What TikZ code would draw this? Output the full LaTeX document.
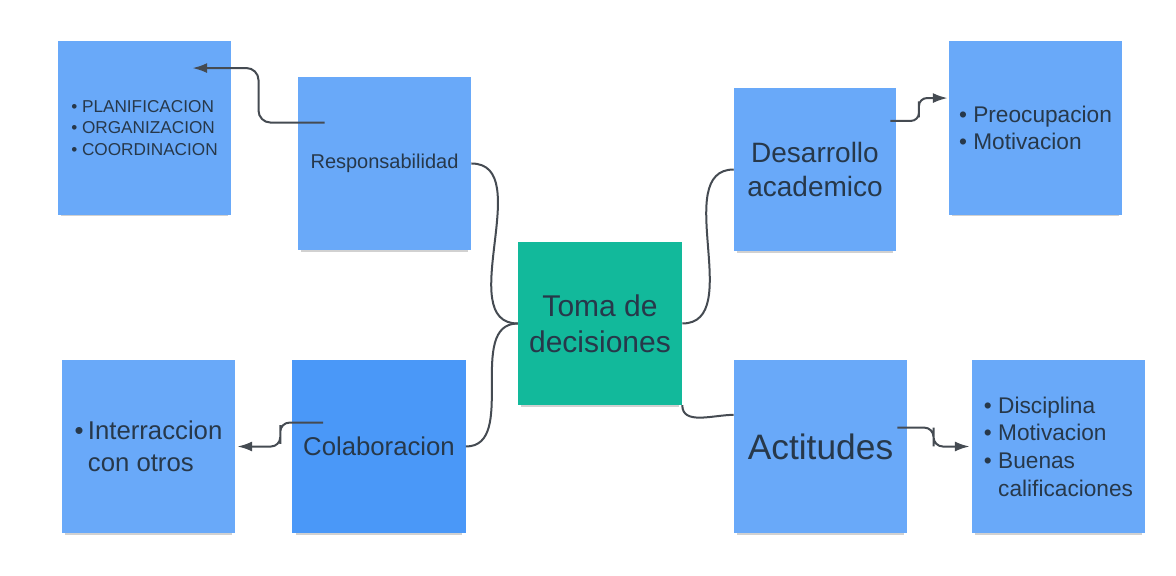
\documentclass[tikz,border=0pt]{standalone}
\usepackage{fontspec}
\setmainfont{Liberation Sans}
\usetikzlibrary{arrows.meta,calc,shadows}
\definecolor{boxblue}{HTML}{69A9F9}
\definecolor{boxdeep}{HTML}{4A98F8}
\definecolor{boxteal}{HTML}{12B99B}
\definecolor{inktext}{HTML}{27384A}
\definecolor{inkline}{HTML}{454B52}
\begin{document}
\begin{tikzpicture}[x=0.75pt,y=0.75pt,
	>={Latex[length=11pt,width=7.5pt]},
	mybox/.style={rectangle,fill=boxblue,text=inktext,minimum width=130pt,minimum height=130pt,inner sep=0pt,
		drop shadow={shadow xshift=0pt,shadow yshift=-4pt,shadow scale=0.96,opacity=0.18,fill=black}},
	mylink/.style={draw=inkline,line width=1.5pt},
	myarrow/.style={mylink,->}]
	
	\useasboundingbox (0,0) rectangle (1176,575);
	
	\node[mybox,fill=boxteal,minimum width=123pt,minimum height=122pt,align=center,font=\fontsize{22.5}{27}\selectfont] (toma) at (600,251.5) {Toma de\\decisiones};
	\node[mybox,font=\fontsize{15}{18}\selectfont] (resp) at (384.5,411.5) {Responsabilidad};
	\node[mybox,minimum width=121.5pt,minimum height=122pt,align=center,font=\fontsize{21}{25.5}\selectfont] (des) at (815,405.5) {Desarrollo\\academico};
	\node[mybox,fill=boxdeep,font=\fontsize{19.3}{23}\selectfont] (col) at (379,128.5) {Colaboracion};
	\node[mybox,font=\fontsize{26.5}{32}\selectfont] (act) at (820.5,128.5) {Actitudes};
	
	\node[mybox,align=left,font=\fontsize{12.9}{16.1}\selectfont] (plan) at (144.5,447) {• PLANIFICACION\\• ORGANIZACION\\• COORDINACION};
	\node[mybox,align=left,font=\fontsize{17}{20.3}\selectfont] (pre) at (1035.5,447) {• Preocupacion\\• Motivacion};
	\node[mybox,align=left,font=\fontsize{19.3}{24}\selectfont] (inter) at (148.5,128.5) {•\,Interraccion\\\phantom{•\,}con otros};
	\node[mybox,align=left,font=\fontsize{17}{20.7}\selectfont] (disc) at (1058.5,128.5) {• Disciplina\\• Motivacion\\• Buenas\\\phantom{• }calificaciones};
	
	% ramas hacia el centro
	\draw[mylink] (resp.east) to[out=0,in=180] (toma.west);
	\draw[mylink] (col.east) to[out=0,in=180] (toma.west);
	\draw[mylink] (toma.east) to[out=0,in=180] (des.west);
	\draw[mylink] (toma.south east) to[out=-90,in=180] (act.160);
	
	% flechas hacia las listas
	\coordinate (r1) at ($(resp.north west)+(27,-46)$);
	\coordinate (p1) at ($(plan.north east)+(-39,-27)$);
	\draw[myarrow,rounded corners=9pt] (r1) -| ($(r1)!0.5!(p1)$) |- (p1);
	
	\coordinate (d1) at ($(des.north east)+(-6,-33)$);
	\coordinate (q1) at ($(pre.north west)+(-1,-57)$);
	\draw[myarrow,rounded corners=6pt] (d1) -| ($(d1)!0.5!(q1)$) |- (q1);
	
	\coordinate (c1) at ($(col.north west)+(31,-63)$);
	\coordinate (i1) at ($(inter.east)+(2,0)$);
	\draw[myarrow,rounded corners=7pt] (c1) -| ($(c1)!0.5!(i1)$) |- (i1);
	
	\coordinate (a1) at ($(act.north east)+(-10,-68)$);
	\coordinate (s1) at ($(disc.west)+(-2,0)$);
	\draw[myarrow,rounded corners=7pt] (a1) -| ($(a1)!0.5!(s1)$) |- (s1);
\end{tikzpicture}
\end{document}
